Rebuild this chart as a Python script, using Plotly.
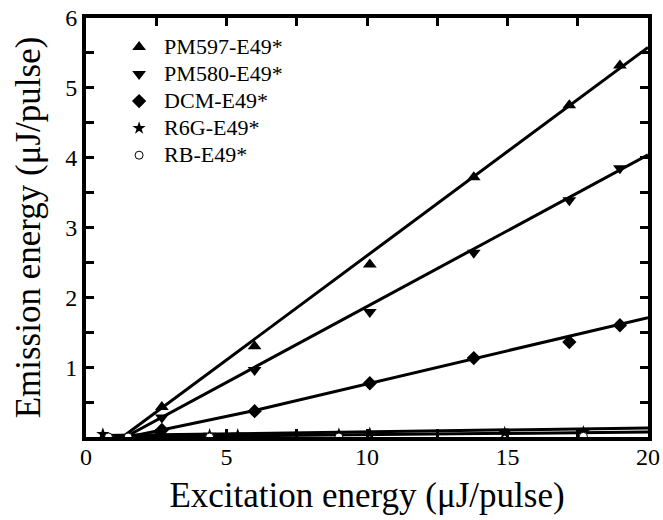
import plotly.graph_objects as go

# Data
excitation = [2.7, 6.0, 10.1, 13.8, 17.2, 19.0]
pm597 = [0.43, 1.30, 2.47, 3.72, 4.75, 5.32]
pm580 = [0.28, 0.96, 1.79, 2.64, 3.39, 3.85]
dcm = [0.10, 0.37, 0.77, 1.13, 1.36, 1.60]

r6g_x = [0.6, 4.4, 5.4, 9.0, 10.1, 14.9, 17.7]
r6g_y = [0.04, 0.03, 0.03, 0.04, 0.05, 0.06, 0.07]
rb_x = [0.8, 1.5, 4.4, 9.0, 17.7]
rb_y = [0.0, 0.0, 0.0, 0.0, 0.01]

# Linear fits (start, end)
pm597_fit_x = [1.3, 20.0]
pm597_fit_y = [0.0, 5.58]
pm580_fit_x = [1.4, 20.0]
pm580_fit_y = [0.0, 4.04]
dcm_fit_x = [1.5, 6.0, 20.0]
dcm_fit_y = [0.0, 0.38, 1.71]
r6g_fit_x = [0.5, 20.0]
r6g_fit_y = [0.02, 0.13]
rb_fit_x = [1.0, 20.0]
rb_fit_y = [0.0, 0.07]

series_names = ["PM597-E49*", "PM580-E49*", "DCM-E49*", "R6G-E49*", "RB-E49*"]

x_ticks = [0, 2.5, 5, 7.5, 10, 12.5, 15, 17.5, 20]
x_labels = ["0", "", "5", "", "10", "", "15", "", "20"]
y_ticks = [0, 0.5, 1, 1.5, 2, 2.5, 3, 3.5, 4, 4.5, 5, 5.5, 6]
y_labels = ["", "", "1", "", "2", "", "3", "", "4", "", "5", "", "6"]

FONT = "Liberation Serif, Times New Roman, serif"


def lg(name):
    return '<span style="font-size:22px">' + name + '</span>'


fig = go.Figure()

line_style = dict(color="black", width=3)
for fx, fy in [(pm597_fit_x, pm597_fit_y), (pm580_fit_x, pm580_fit_y),
               (dcm_fit_x, dcm_fit_y), (r6g_fit_x, r6g_fit_y), (rb_fit_x, rb_fit_y)]:
    fig.add_trace(go.Scatter(x=fx, y=fy, mode="lines", line=line_style,
                             showlegend=False, hoverinfo="skip"))

fig.add_trace(go.Scatter(x=excitation, y=pm597, mode="markers", name=lg(series_names[0]),
                         marker=dict(symbol="triangle-up", size=12, color="black")))
fig.add_trace(go.Scatter(x=excitation, y=pm580, mode="markers", name=lg(series_names[1]),
                         marker=dict(symbol="triangle-down", size=12, color="black")))
fig.add_trace(go.Scatter(x=excitation, y=dcm, mode="markers", name=lg(series_names[2]),
                         marker=dict(symbol="diamond", size=11, color="black")))
fig.add_trace(go.Scatter(x=r6g_x, y=r6g_y, mode="markers", name=lg(series_names[3]),
                         marker=dict(symbol="star", size=10, color="black")))
fig.add_trace(go.Scatter(x=rb_x, y=rb_y, mode="markers", name=lg(series_names[4]),
                         marker=dict(symbol="circle", size=8, color="white",
                                     line=dict(color="black", width=1))))

axis_common = dict(
    showgrid=False, zeroline=False, showline=True, linecolor="black", linewidth=4,
    mirror="allticks", ticks="inside", ticklen=8, tickwidth=3, tickcolor="black",
    tickfont=dict(family=FONT, size=24, color="black"), automargin=False,
)
fig.update_xaxes(range=[0, 20], tickmode="array", tickvals=x_ticks, ticktext=x_labels,
                 ticklabelstandoff=-5,
                 title=dict(text="Excitation energy (μJ/pulse)",
                            font=dict(family=FONT, size=35, color="black")),
                 **axis_common)
fig.update_yaxes(range=[0, 6], tickmode="array", tickvals=y_ticks, ticktext=y_labels,
                 title=dict(text="Emission energy (μJ/pulse)",
                            font=dict(family=FONT, size=35, color="black")),
                 **axis_common)

fig.update_layout(
    width=663, height=520,
    margin=dict(l=86, r=15, t=18, b=83),
    paper_bgcolor="white", plot_bgcolor="white",
    font=dict(family=FONT, color="black"),
    legend=dict(x=0.05, y=0.975, xanchor="left", yanchor="top",
                font=dict(family=FONT, size=18.5, color="black"),
                bgcolor="rgba(0,0,0,0)", itemwidth=40, tracegroupgap=0),
)

fig.write_html("out.html")
